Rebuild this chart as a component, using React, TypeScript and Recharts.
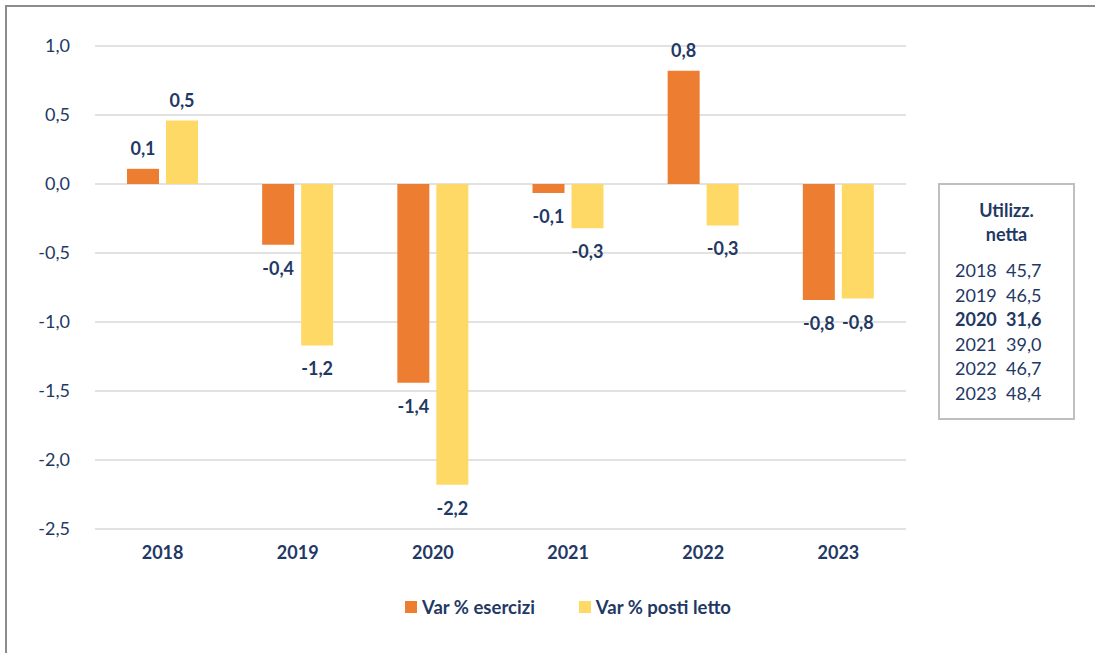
import React from "react";
import { BarChart, Bar, XAxis, YAxis, CartesianGrid, Legend, LabelList } from "recharts";

const years = ["2018", "2019", "2020", "2021", "2022", "2023"];
const varEsercizi = [0.11, -0.44, -1.44, -0.065, 0.82, -0.84];
const varPostiLetto = [0.46, -1.17, -2.18, -0.32, -0.3, -0.83];
const yTicks = [1, 0.5, 0, -0.5, -1, -1.5, -2, -2.5];

const utilYears = ["2018", "2019", "2020", "2021", "2022", "2023"];
const utilValues = [45.7, 46.5, 31.6, 39.0, 46.7, 48.4];
const utilBold = "2020";

const data = years.map((y, i) => ({ year: y, esercizi: varEsercizi[i], posti: varPostiLetto[i] }));

const NAVY = "#1F3864";
const FONT = "Lato, 'Open Sans', sans-serif";
const fmt = (v: number) => v.toFixed(1).replace(".", ",");

const BarLabel = (props: any) => {
  const { x, y, width, height, value } = props;
  const top = Math.min(y, y + height);
  const bottom = Math.max(y, y + height);
  const cy = value >= 0 ? top - 21 : bottom + 23;
  return (
    <text x={x + width / 2} y={cy} textAnchor="middle" dominantBaseline="central"
      fill={NAVY} fontWeight="bold" fontSize={18} fontFamily={FONT}>
      {fmt(value)}
    </text>
  );
};

const LegendBox = () => (
  <div style={{ display: "flex", alignItems: "center", fontFamily: FONT, fontSize: 18.5, fontWeight: "bold", color: NAVY }}>
    <span style={{ width: 12, height: 12, background: "#ED7D31", marginRight: 5 }} />
    <span>Var % esercizi</span>
    <span style={{ width: 12, height: 12, background: "#FFD966", marginLeft: 44, marginRight: 5 }} />
    <span>Var % posti letto</span>
  </div>
);

export default function App() {
  return (
    <div style={{ position: "absolute", left: 0, top: 0, width: 1095, height: 653, overflow: "hidden", background: "#fff" }}>
      <div style={{ position: "absolute", left: 5, top: 5, width: 1090, height: 648, borderLeft: "2px solid #8c8c8c", borderTop: "2px solid #8c8c8c", boxSizing: "border-box" }} />
      <div style={{ position: "absolute", left: 0, top: 0 }}>
        <BarChart width={930} height={653} data={data}
          margin={{ top: 46, right: 24, left: 0, bottom: 30 }}
          barGap={7} barSize={32} barCategoryGap="24%">
          <CartesianGrid vertical={false} stroke="#d9d9d9" strokeWidth={1.5} />
          <XAxis dataKey="year" axisLine={false} tickLine={false} tickSize={0} tickMargin={17} height={54}
            tick={{ fill: NAVY, fontSize: 18, fontWeight: "bold", fontFamily: FONT }} />
          <YAxis domain={[-2.5, 1]} ticks={yTicks} axisLine={false} tickLine={false} tickSize={0} tickMargin={25}
            width={95} tickFormatter={fmt} interval={0}
            tick={{ fill: NAVY, fontSize: 18, fontFamily: FONT }} />
          <Legend verticalAlign="bottom" height={40} content={<LegendBox />}
            wrapperStyle={{ left: 405, top: 596, width: 420 }} />
          <Bar dataKey="esercizi" name="Var % esercizi" fill="#ED7D31" isAnimationActive={false}>
            <LabelList dataKey="esercizi" content={<BarLabel />} />
          </Bar>
          <Bar dataKey="posti" name="Var % posti letto" fill="#FFD966" isAnimationActive={false}>
            <LabelList dataKey="posti" content={<BarLabel />} />
          </Bar>
        </BarChart>
      </div>
      <div style={{ position: "absolute", left: 938, top: 183, width: 137, height: 237, border: "2px solid #bfbfbf", boxSizing: "border-box", fontFamily: FONT, fontSize: 18, color: NAVY }}>
        <div style={{ textAlign: "center", fontWeight: "bold", lineHeight: "24px", marginTop: 13 }}>
          Utilizz.<br />netta
        </div>
        <div style={{ marginTop: 12 }}>
          {utilYears.map((y, i) => (
            <div key={y} style={{ display: "flex", lineHeight: "24.5px", fontWeight: y === utilBold ? "bold" : "normal" }}>
              <span style={{ marginLeft: 15, width: 51 }}>{y}</span>
              <span>{fmt(utilValues[i])}</span>
            </div>
          ))}
        </div>
      </div>
    </div>
  );
}
